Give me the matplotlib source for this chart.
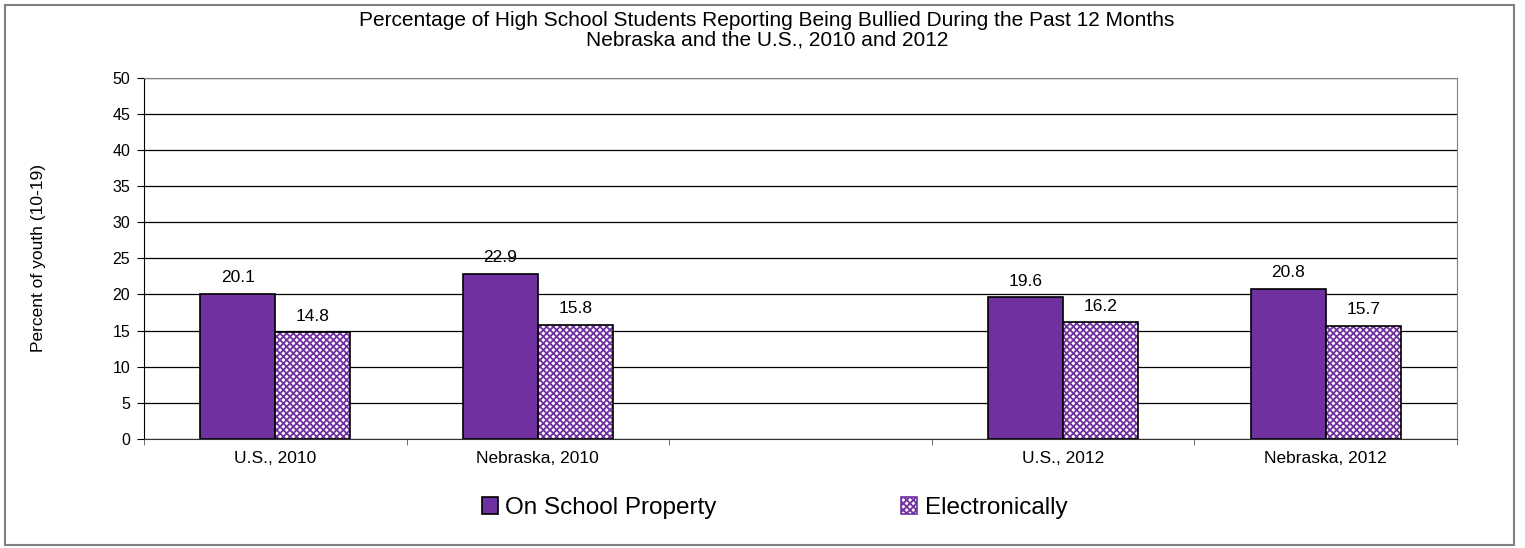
import numpy as np
import matplotlib
matplotlib.use("Agg")
import matplotlib.pyplot as plt
from matplotlib.patches import Rectangle, Patch

plt.rcParams['font.family'] = ['Liberation Sans', 'DejaVu Sans']
plt.rcParams['hatch.linewidth'] = 1.3

categories = ['U.S., 2010', 'Nebraska, 2010', '', 'U.S., 2012', 'Nebraska, 2012']
on_school = [20.1, 22.9, np.nan, 19.6, 20.8]
electronic = [14.8, 15.8, np.nan, 16.2, 15.7]

purple = '#7030A0'
x = np.arange(len(categories))
w = 0.286

fig = plt.figure(figsize=(15.25, 5.48), dpi=100)
ax = fig.add_axes([0.0944, 0.199, 0.861, 0.659])

# outer chart frame
fig.patches.append(Rectangle((0.0033, 0.006), 0.9898, 0.985, transform=fig.transFigure,
                             fill=False, edgecolor='#808080', linewidth=1.5))

ax.set_axisbelow(True)
ax.yaxis.grid(True, color='black', linewidth=0.9)

ax.bar(x - w / 2, on_school, w, color=purple, edgecolor='black', linewidth=1.2)
# hatched bars: hatch layer in purple, black outline drawn on top
ax.bar(x + w / 2, electronic, w, facecolor='white', edgecolor=purple, hatch='xxxxx', linewidth=0)
ax.bar(x + w / 2, electronic, w, facecolor='none', edgecolor='black', linewidth=1.2)

for xs, vals in [(x - w / 2, on_school), (x + w / 2, electronic)]:
    for xi, v in zip(xs, vals):
        if not np.isnan(v):
            ax.annotate(f'{v:.1f}', (xi, v), xytext=(0, 6), textcoords='offset points',
                        ha='center', va='bottom', fontsize=12.5)

ax.set_xlim(-0.5, len(categories) - 0.5)
ax.set_ylim(0, 50)
ax.set_yticks(np.arange(0, 51, 5))
ax.set_xticks(x)
ax.set_xticklabels(categories, fontsize=12.5)
ax.set_xticks(np.arange(-0.5, len(categories), 1), minor=True)
ax.tick_params(axis='x', which='major', length=0, pad=9)
ax.tick_params(axis='x', which='minor', length=4, color='#555555')
ax.tick_params(axis='y', length=5, labelsize=11.5, pad=5)

for s in ['top', 'right']:
    ax.spines[s].set_color('#808080')
ax.spines['left'].set_color('black')
ax.spines['bottom'].set_color('#333333')

ax.set_ylabel('Percent of youth (10-19)', fontsize=12.5, labelpad=48)

fig.text(0.503, 0.945, 'Percentage of High School Students Reporting Being Bullied During the Past 12 Months\n'
         'Nebraska and the U.S., 2010 and 2012', ha='center', va='center', fontsize=15, linespacing=1.0)

h1 = Patch(facecolor=purple, edgecolor='black', linewidth=1.2)
h2 = Patch(facecolor='white', edgecolor=purple, hatch='xxxxx', linewidth=1.2)
fig.legend([h1, h2], ['On School Property', 'Electronically'], loc='center',
           bbox_to_anchor=(0.508, 0.073), ncol=2, frameon=False, fontsize=17.5,
           handlelength=0.65, handleheight=0.65, handletextpad=0.3, columnspacing=7.6)

fig.savefig('out.png', dpi=100)
